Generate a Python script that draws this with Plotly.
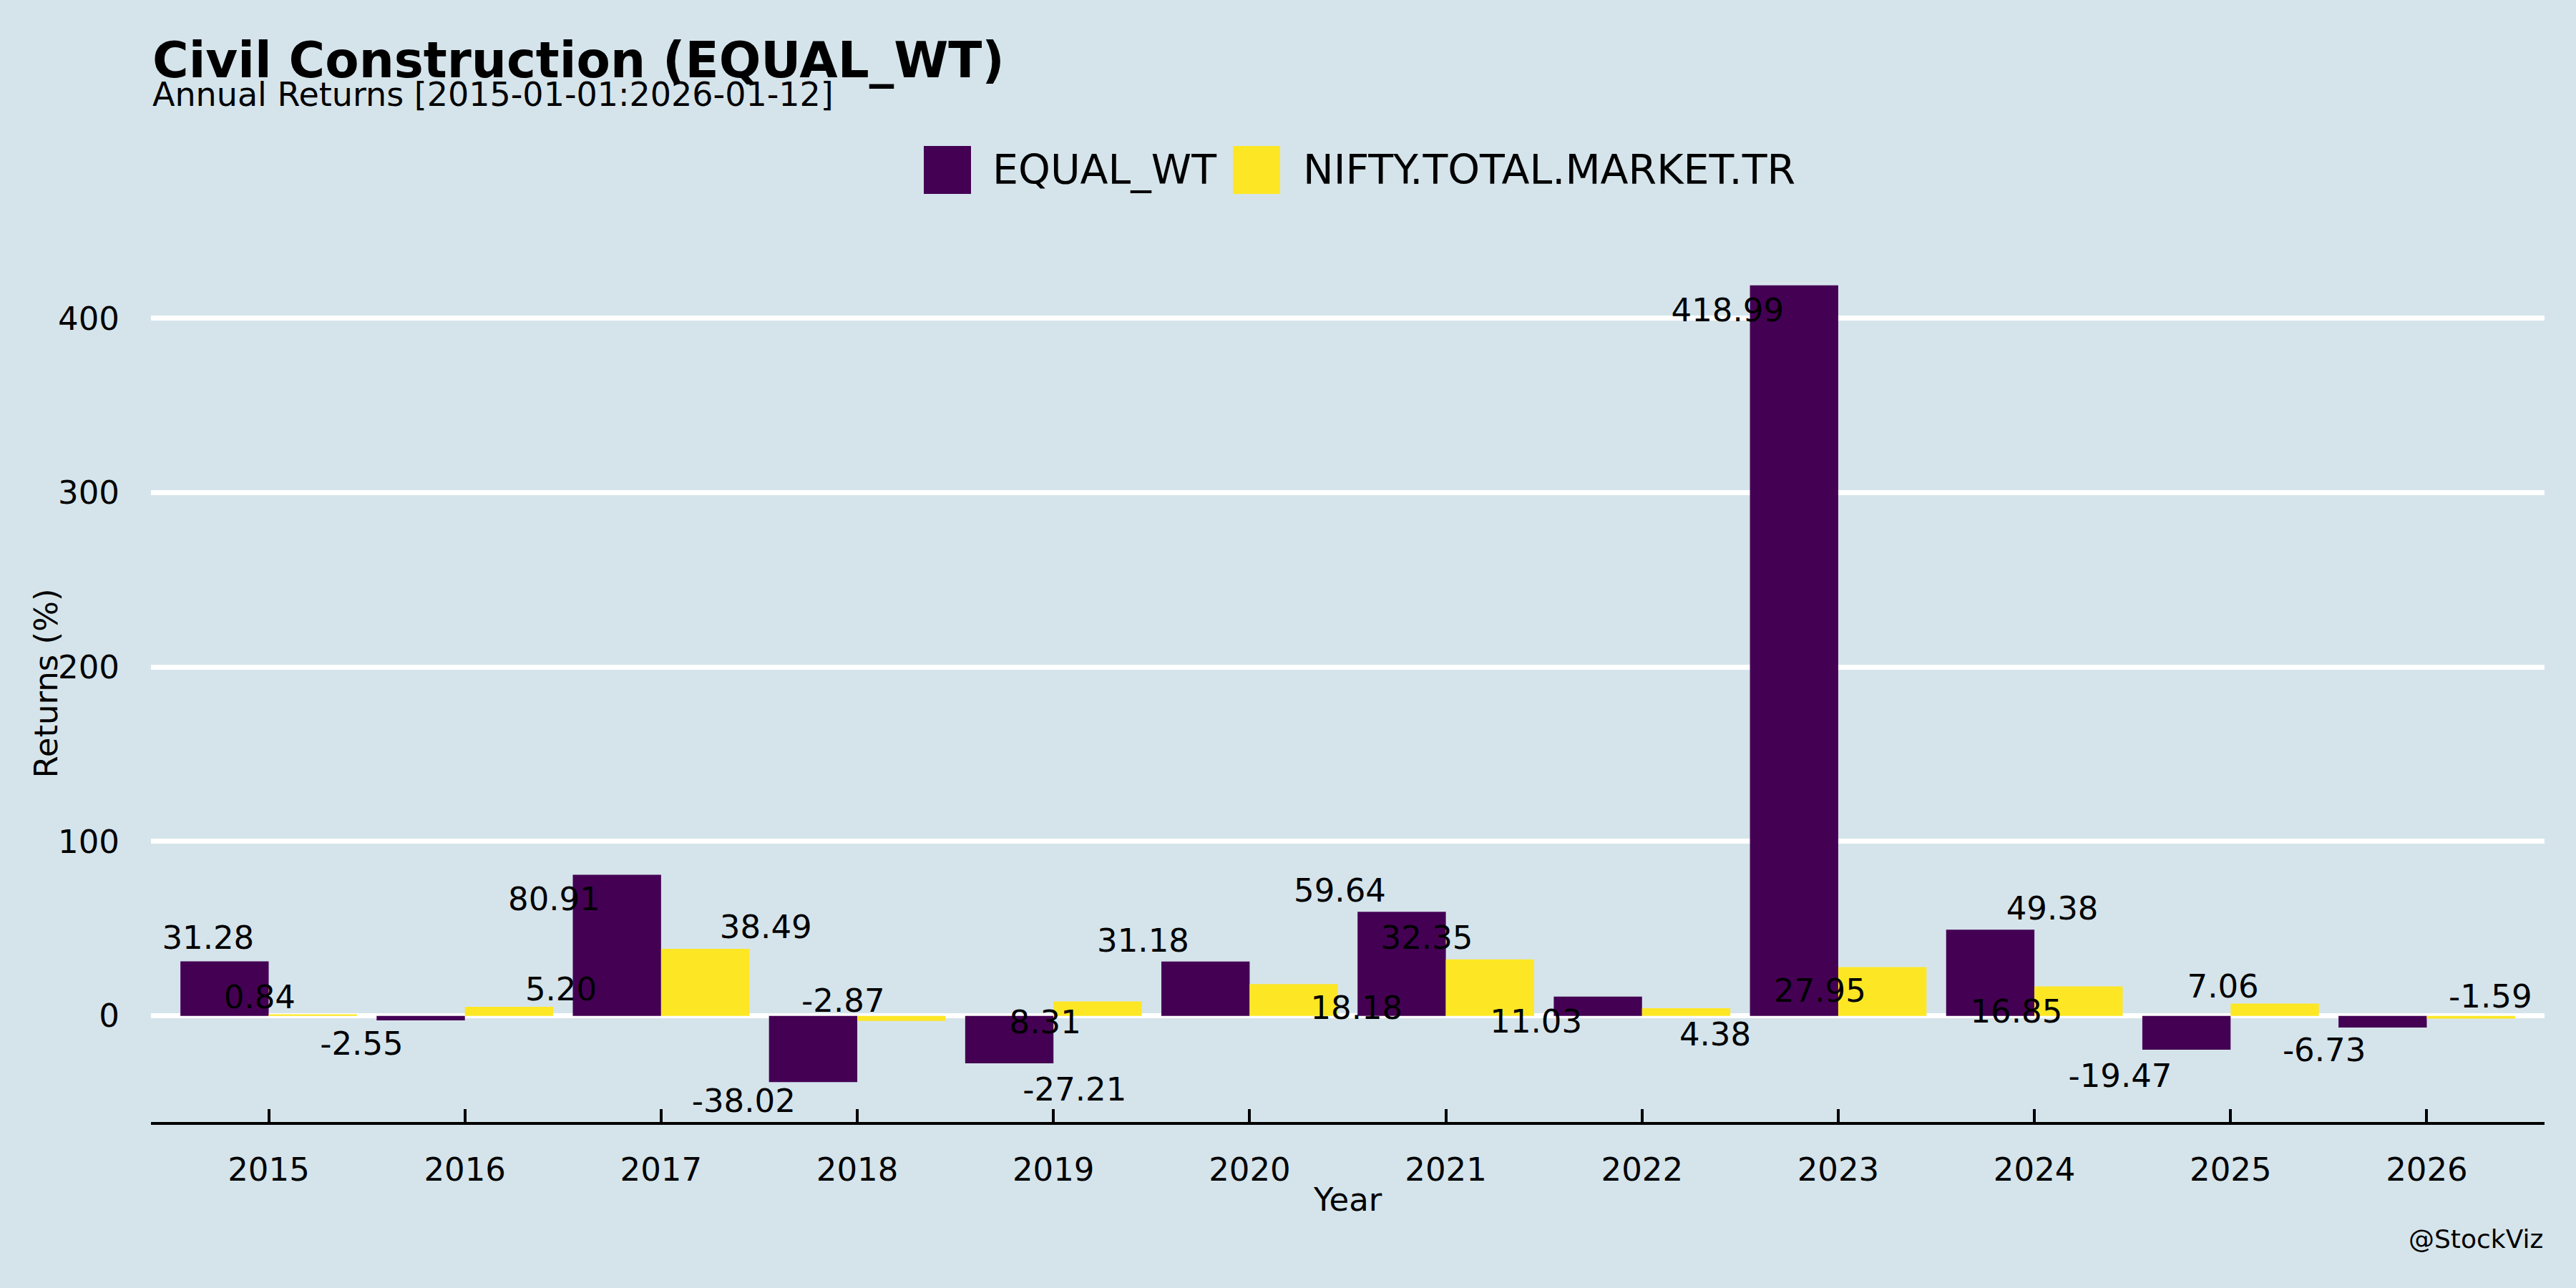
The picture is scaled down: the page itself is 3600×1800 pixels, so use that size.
import plotly.graph_objects as go

# ---------------- data ----------------
years = [2015, 2016, 2017, 2018, 2019, 2020, 2021, 2022, 2023, 2024, 2025, 2026]
equal_wt = [31.28, -2.55, 80.91, -38.02, -27.21, 31.18, 59.64, 11.03, 418.99, 49.38, -19.47, -6.73]
nifty_tmtr = [0.84, 5.20, 38.49, -2.87, 8.31, 18.18, 32.35, 4.38, 27.95, 16.85, 7.06, -1.59]
series_names = ["EQUAL_WT", "NIFTY.TOTAL.MARKET.TR"]
series_colors = ["#440154", "#fde725"]

# jitter of the value labels (x in years, y in % points)
eq_label_dx = [-0.309, -0.526, -0.545, -0.579, 0.108, -0.543, -0.540, -0.540, -0.564, 0.091, -0.563, -0.523]
eq_label_dy = [14.6, -12.05, -12.9, -9.5, -13.8, 13.2, 13.5, -13.0, -13.3, 13.3, -13.6, -11.7]
ni_label_dx = [-0.046, 0.490, 0.534, -0.072, -0.042, 0.545, -0.097, 0.373, -0.093, -0.092, -0.039, 0.324]
ni_label_dy = [11.2, 11.2, 13.5, 12.9, -10.6, -12.6, 13.5, -13.8, -12.5, -13.1, 11.1, 13.9]

y_ticks = [0, 100, 200, 300, 400]

title_text = "Civil Construction (EQUAL_WT)"
subtitle_text = "Annual Returns [2015-01-01:2026-01-12]"
x_title = "Year"
y_title = "Returns (%)"
credit = "@StockViz"

# ---------------- layout constants ----------------
W, H = 3600, 1800
L, R, T, B = 211, 44, 343, 232
BG = "#d5e4eb"
FONT = "DejaVu Sans"
PW, PH = W - L - R, H - T - B
TEXT_VCORR = -2.9  # plotly's 'middle' sits a little high; small correction in % units


def px(xp):
    return (xp - L) / PW


def py(yp):
    return (H - B - yp) / PH


all_vals = equal_wt + nifty_tmtr
span = max(all_vals) - min(all_vals)
y_range = [min(all_vals) - 0.05 * span, max(all_vals) + 0.05 * span]

fig = go.Figure()
for name, vals, col in zip(series_names, [equal_wt, nifty_tmtr], series_colors):
    fig.add_trace(go.Bar(x=years, y=vals, name=name, marker=dict(color=col, line=dict(width=0)),
                         showlegend=False))

for vals, dxs, dys in [(equal_wt, eq_label_dx, eq_label_dy), (nifty_tmtr, ni_label_dx, ni_label_dy)]:
    fig.add_trace(go.Scatter(
        x=[yr + dx for yr, dx in zip(years, dxs)],
        y=[v + dy + TEXT_VCORR for v, dy in zip(vals, dys)],
        mode="text", text=[f"{v:.2f}" for v in vals],
        textposition="middle center",
        textfont=dict(family=FONT, size=45, color="black"),
        showlegend=False, hoverinfo="skip", cliponaxis=False))

fig.update_layout(
    width=W, height=H,
    margin=dict(l=L, r=R, t=T, b=B, autoexpand=False),
    paper_bgcolor=BG, plot_bgcolor=BG,
    barmode="group", bargap=0.1, bargroupgap=0,
    font=dict(family=FONT, color="black"),
    xaxis=dict(range=[years[0] - 0.6, years[-1] + 0.6], tickmode="array", tickvals=years,
               ticktext=[str(y) for y in years], showgrid=False, zeroline=False,
               showline=True, linecolor="black", linewidth=4,
               ticks="inside", ticklen=18, tickwidth=4, tickcolor="black",
               tickfont=dict(family=FONT, size=45, color="black"), ticklabelstandoff=24),
    yaxis=dict(range=y_range, tickmode="array", tickvals=y_ticks, showgrid=True,
               gridcolor="white", gridwidth=7, zeroline=False, showline=False, ticks="",
               tickfont=dict(family=FONT, size=45, color="black"), ticklabelstandoff=43),
)

ann = [
    dict(text=f"<b>{title_text}</b>", x=0, y=py(84), xanchor="left", yanchor="middle",
         font=dict(family=FONT, size=69, color="black")),
    dict(text=subtitle_text, x=0, y=py(132), xanchor="left", yanchor="middle",
         font=dict(family=FONT, size=46, color="black")),
    dict(text=x_title, x=0.5, y=py(1676), xanchor="center", yanchor="middle",
         font=dict(family=FONT, size=45, color="black")),
    dict(text=y_title, x=px(64), y=0.5, xanchor="center", yanchor="middle", textangle=-90,
         font=dict(family=FONT, size=45, color="black")),
    dict(text=credit, x=1, y=py(1731), xanchor="right", yanchor="middle",
         font=dict(family=FONT, size=36, color="black")),
]
# manual legend (large swatches)
legend_swatch_x = [(1291, 1357), (1723, 1789)]
legend_text_x = [1385, 1819]
shapes = []
for (x0, x1), tx, name, col in zip(legend_swatch_x, legend_text_x, series_names, series_colors):
    shapes.append(dict(type="rect", xref="paper", yref="paper", x0=px(x0), x1=px(x1),
                       y0=py(271), y1=py(204), fillcolor=col, line=dict(width=0)))
    ann.append(dict(text=name, x=px(tx), y=py(237), xanchor="left", yanchor="middle",
                    font=dict(family=FONT, size=57, color="black")))
for a in ann:
    a.update(xref="paper", yref="paper", showarrow=False)
fig.update_layout(annotations=ann, shapes=shapes)

fig.write_html(
    "out.html",
    config={"displayModeBar": False},
    post_script="document.body.style.margin='0';document.body.style.background='%s';" % BG,
)
